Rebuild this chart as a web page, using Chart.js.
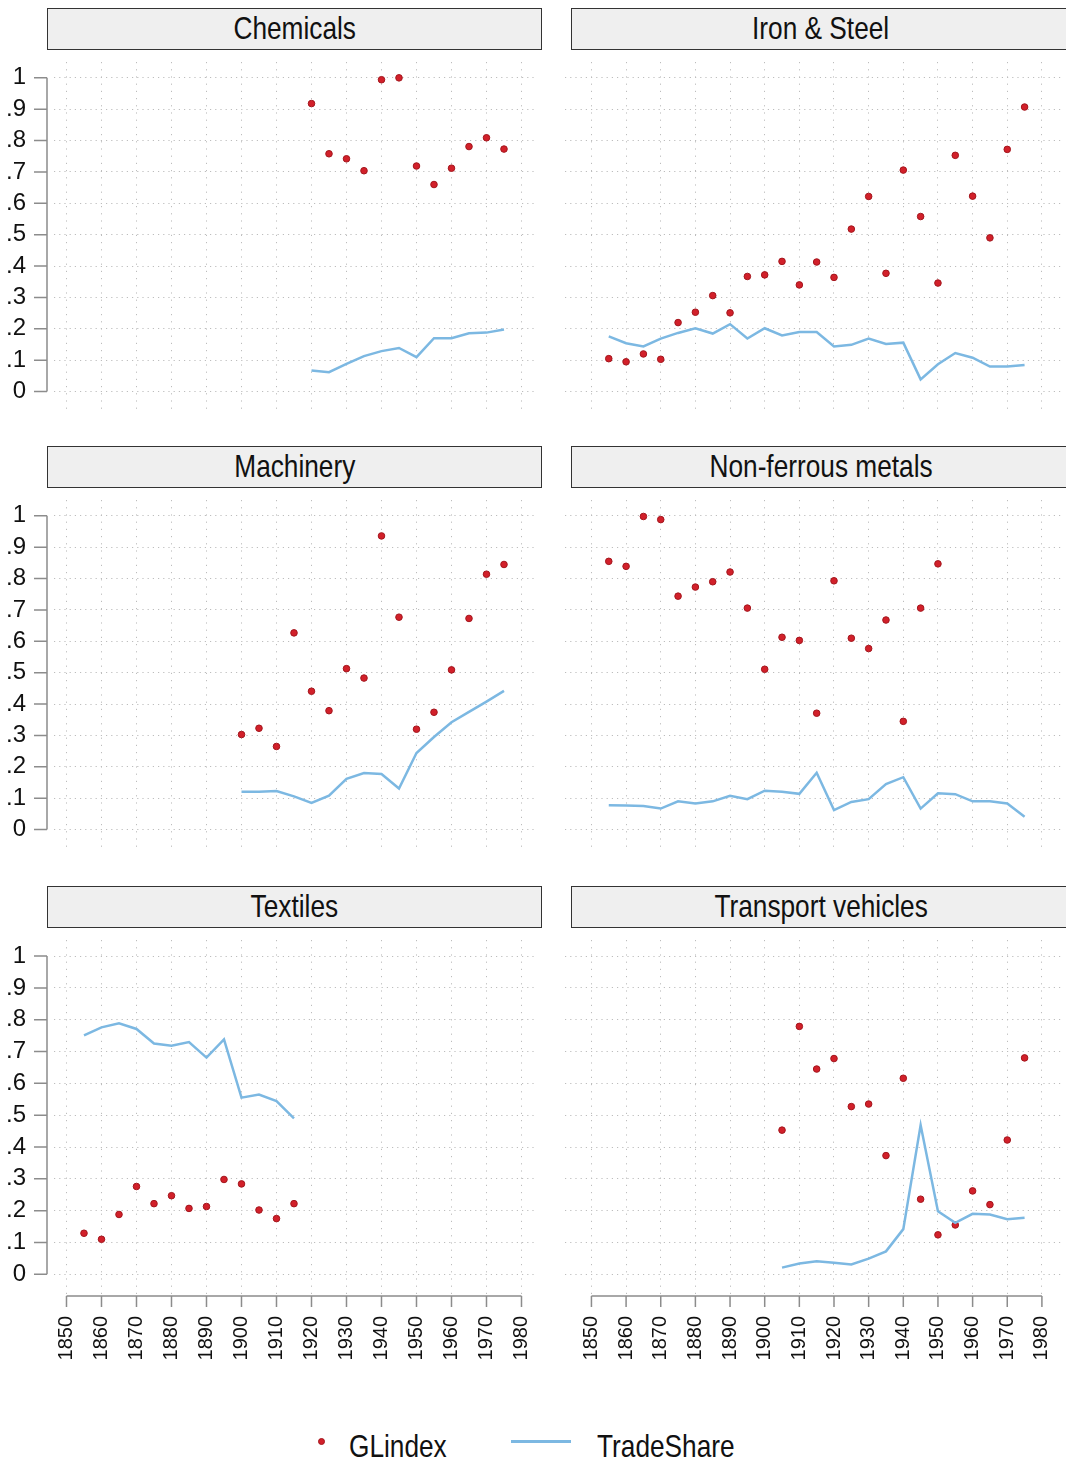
<!DOCTYPE html>
<html>
<head>
<meta charset="utf-8">
<script src="https://cdn.jsdelivr.net/npm/chart.js@4.4.1/dist/chart.umd.min.js"></script>
<style>
  html, body { margin: 0; padding: 0; background: #fff; }
  body { width: 1066px; height: 1465px; position: relative; overflow: hidden; }
  canvas { position: absolute; }
  .strip { position: absolute; box-sizing: border-box; height: 42px; background: #efefef; border: 1.5px solid #333; overflow: hidden; }
  .strip .t { position: absolute; left: 0; right: 0; top: 3px; text-align: center; line-height: 1; font-size: 32px; color: #111; white-space: nowrap; }
  .lbl { position: absolute; line-height: 1; font-size: 32px; color: #111; white-space: nowrap; }
  .sq { display: inline-block; }
</style>
</head>
<body>
<script>
// values
const chemYears = [1920, 1925, 1930, 1935, 1940, 1945, 1950, 1955, 1960, 1965, 1970, 1975];
const chemGL = [0.918, 0.758, 0.742, 0.704, 0.994, 1.0, 0.719, 0.66, 0.712, 0.781, 0.809, 0.773];
const chemTS = [0.067, 0.062, 0.088, 0.113, 0.129, 0.139, 0.110, 0.170, 0.170, 0.186, 0.188, 0.198];

const ironYears = [1855, 1860, 1865, 1870, 1875, 1880, 1885, 1890, 1895, 1900, 1905, 1910, 1915,
                   1920, 1925, 1930, 1935, 1940, 1945, 1950, 1955, 1960, 1965, 1970, 1975];
const ironGL = [0.105, 0.095, 0.12, 0.103, 0.22, 0.253, 0.306, 0.251, 0.367, 0.372, 0.415, 0.34, 0.413,
                0.364, 0.518, 0.622, 0.377, 0.706, 0.558, 0.346, 0.753, 0.623, 0.49, 0.772, 0.907];
const ironTS = [0.176, 0.154, 0.144, 0.169, 0.187, 0.202, 0.185, 0.215, 0.169, 0.202, 0.179, 0.19, 0.19,
                0.144, 0.149, 0.169, 0.152, 0.156, 0.039, 0.087, 0.123, 0.108, 0.08, 0.08, 0.085];

const machYears = [1900, 1905, 1910, 1915, 1920, 1925, 1930, 1935, 1940, 1945, 1950, 1955, 1960, 1965, 1970, 1975];
const machGL = [0.303, 0.323, 0.265, 0.627, 0.441, 0.379, 0.513, 0.483, 0.936, 0.677, 0.32, 0.374, 0.509, 0.673, 0.814, 0.845];
const machTS = [0.121, 0.121, 0.123, 0.106, 0.085, 0.108, 0.162, 0.18, 0.177, 0.131, 0.244, 0.295, 0.342, 0.375, 0.408, 0.442];

const nonfGLYears = [1855, 1860, 1865, 1870, 1875, 1880, 1885, 1890, 1895, 1900, 1905, 1910, 1915,
                     1920, 1925, 1930, 1935, 1940, 1945, 1950];
const nonfGL = [0.855, 0.839, 0.998, 0.988, 0.744, 0.773, 0.79, 0.821, 0.706, 0.511, 0.613, 0.603, 0.371,
                0.793, 0.61, 0.577, 0.668, 0.345, 0.706, 0.847];
const nonfTSYears = [1855, 1860, 1865, 1870, 1875, 1880, 1885, 1890, 1895, 1900, 1905, 1910, 1915,
                     1920, 1925, 1930, 1935, 1940, 1945, 1950, 1955, 1960, 1965, 1970, 1975];
const nonfTS = [0.078, 0.077, 0.075, 0.067, 0.09, 0.083, 0.09, 0.108, 0.097, 0.124, 0.121, 0.114, 0.181,
                0.062, 0.088, 0.097, 0.145, 0.167, 0.067, 0.116, 0.113, 0.09, 0.09, 0.083, 0.041];

const textYears = [1855, 1860, 1865, 1870, 1875, 1880, 1885, 1890, 1895, 1900, 1905, 1910, 1915];
const textGL = [0.129, 0.11, 0.188, 0.276, 0.222, 0.247, 0.207, 0.213, 0.298, 0.284, 0.202, 0.175, 0.222];
const textTS = [0.751, 0.776, 0.789, 0.771, 0.725, 0.718, 0.73, 0.681, 0.738, 0.555, 0.565, 0.544, 0.49];

const transYears = [1905, 1910, 1915, 1920, 1925, 1930, 1935, 1940, 1945, 1950, 1955, 1960, 1965, 1970, 1975];
const transGL = [0.453, 0.779, 0.645, 0.678, 0.527, 0.535, 0.373, 0.616, 0.236, 0.124, 0.155, 0.262, 0.219, 0.422, 0.68];
const transTS = [0.021, 0.034, 0.041, 0.036, 0.031, 0.049, 0.072, 0.142, 0.469, 0.198, 0.162, 0.19, 0.188, 0.173, 0.178];

const xTicks = [1850, 1860, 1870, 1880, 1890, 1900, 1910, 1920, 1930, 1940, 1950, 1960, 1970, 1980];
const xTickLabels = ['1850', '1860', '1870', '1880', '1890', '1900', '1910', '1920', '1930', '1940', '1950', '1960', '1970', '1980'];
const yTicks = [0, 0.1, 0.2, 0.3, 0.4, 0.5, 0.6, 0.7, 0.8, 0.9, 1];
const yTickLabels = ['0', '.1', '.2', '.3', '.4', '.5', '.6', '.7', '.8', '.9', '1'];

const seriesNames = ['GLindex', 'TradeShare'];
const panelTitles = ['Chemicals', 'Iron & Steel', 'Machinery', 'Non-ferrous metals', 'Textiles', 'Transport vehicles'];

// is the narrow Helvetica-like face there?
function hasFont(name) {
    const c = document.createElement('canvas').getContext('2d');
    c.font = '40px monospace';
    const a = c.measureText('Chemicals 1850').width;
    c.font = '40px "' + name + '", monospace';
    return c.measureText('Chemicals 1850').width !== a;
}
const narrow = hasFont('Liberation Sans Narrow');
const FAMILY = narrow ? '"Liberation Sans Narrow", "Liberation Sans", Arial, sans-serif' : '"Liberation Sans", Arial, sans-serif';
const squeeze = narrow ? '' : 'transform:scaleX(0.82);';
document.body.style.fontFamily = FAMILY;
Chart.defaults.font.family = FAMILY;
Chart.defaults.color = '#111';

const RED = '#d2202a';
const RED_EDGE = '#a3161d';
const BLUE = '#7cb8e2';
const AXIS = '#8c8c8c';
const GRID = '#bdbdbd';

// layout of the 2x3 grid
const colLeft = [0, 524];
const colWidth = [545, 542];
const rowTop = [57, 495, 935];
const stripTop = [8, 446, 886];
const stripLeft = [47, 571];
const PLOT_H = 361;
const xRange = [[1846.43, 1984.43], [1842.37, 1985.51]];

const stataAxes = {
    id: 'stataAxes',
    afterDraw(chart, args, opts) {
        const { ctx, chartArea, scales } = chart;
        const x = scales.x, y = scales.y;
        ctx.save();
        ctx.strokeStyle = AXIS;
        ctx.lineWidth = 1.5;
        ctx.setLineDash([]);
        ctx.beginPath();
        if (opts.yAxis) {
            const ax = chartArea.left - 7;
            ctx.moveTo(ax, y.getPixelForValue(yTicks[0]));
            ctx.lineTo(ax, y.getPixelForValue(yTicks[yTicks.length - 1]));
            yTicks.forEach(v => {
                const py = y.getPixelForValue(v);
                ctx.moveTo(ax - 13, py);
                ctx.lineTo(ax, py);
            });
        }
        if (opts.xAxis) {
            const ay = chartArea.bottom;
            ctx.moveTo(x.getPixelForValue(xTicks[0]), ay);
            ctx.lineTo(x.getPixelForValue(xTicks[xTicks.length - 1]), ay);
            xTicks.forEach(v => {
                const px = x.getPixelForValue(v);
                ctx.moveTo(px, ay);
                ctx.lineTo(px, ay + 11);
            });
        }
        ctx.stroke();
        ctx.restore();
    }
};

function pts(xs, ys) {
    return xs.map((v, i) => ({ x: v, y: ys[i] }));
}

const panels = [
    { col: 0, row: 0, gl: pts(chemYears, chemGL), ts: pts(chemYears, chemTS) },
    { col: 1, row: 0, gl: pts(ironYears, ironGL), ts: pts(ironYears, ironTS) },
    { col: 0, row: 1, gl: pts(machYears, machGL), ts: pts(machYears, machTS) },
    { col: 1, row: 1, gl: pts(nonfGLYears, nonfGL), ts: pts(nonfTSYears, nonfTS) },
    { col: 0, row: 2, gl: pts(textYears, textGL), ts: pts(textYears, textTS) },
    { col: 1, row: 2, gl: pts(transYears, transGL), ts: pts(transYears, transTS) }
];

panels.forEach((p, k) => {
    const bottomRow = p.row === 2;
    const leftCol = p.col === 0;

    const strip = document.createElement('div');
    strip.className = 'strip';
    strip.style.left = stripLeft[p.col] + 'px';
    strip.style.top = stripTop[p.row] + 'px';
    strip.style.width = (leftCol ? 495 : 500) + 'px';
    strip.innerHTML = '<div class="t"><span class="sq" style="' + squeeze + '"></span></div>';
    strip.querySelector('.sq').textContent = panelTitles[k];
    document.body.appendChild(strip);

    const canvas = document.createElement('canvas');
    const h = PLOT_H + (bottomRow ? 75 : 0);
    canvas.width = colWidth[p.col];
    canvas.height = h;
    canvas.style.left = colLeft[p.col] + 'px';
    canvas.style.top = rowTop[p.row] + 'px';
    canvas.style.width = colWidth[p.col] + 'px';
    canvas.style.height = h + 'px';
    document.body.appendChild(canvas);

    new Chart(canvas, {
        type: 'scatter',
        data: {
            datasets: [{
                label: seriesNames[0],
                data: p.gl,
                backgroundColor: RED,
                borderColor: RED_EDGE,
                borderWidth: 1,
                pointRadius: 3.3,
                order: 1
            }, {
                label: seriesNames[1],
                data: p.ts,
                showLine: true,
                borderColor: BLUE,
                backgroundColor: BLUE,
                borderWidth: 2.5,
                pointRadius: 0,
                tension: 0,
                order: 0
            }]
        },
        options: {
            responsive: false,
            animation: false,
            events: [],
            layout: { padding: { top: 0, left: 0, bottom: 0, right: leftCol ? 8 : 0 } },
            plugins: {
                legend: { display: false },
                tooltip: { enabled: false },
                stataAxes: { yAxis: leftCol, xAxis: bottomRow }
            },
            scales: {
                x: {
                    type: 'linear',
                    min: xRange[p.col][0],
                    max: xRange[p.col][1],
                    afterBuildTicks: s => { s.ticks = xTicks.map(v => ({ value: v })); },
                    afterFit: s => {
                        s.height = bottomRow ? 75 : 0;
                        s.paddingLeft = 0;
                        s.paddingRight = 0;
                    },
                    grid: { color: GRID, lineWidth: 1, drawTicks: false },
                    border: { display: false, dash: [1.2, 6] },
                    ticks: {
                        display: bottomRow,
                        autoSkip: false,
                        minRotation: 90,
                        maxRotation: 90,
                        padding: 20,
                        font: { size: narrow ? 25 : 20 },
                        color: '#111',
                        callback: (v, i) => xTickLabels[i]
                    }
                },
                y: {
                    type: 'linear',
                    min: -0.0682,
                    max: 1.0505,
                    afterBuildTicks: s => { s.ticks = yTicks.map(v => ({ value: v })); },
                    afterFit: s => {
                        s.width = leftCol ? 54 : 41;
                        s.paddingTop = 0;
                        s.paddingBottom = 0;
                    },
                    grid: { color: GRID, lineWidth: 1, drawTicks: false },
                    border: { display: false, dash: [1.2, 4] },
                    ticks: {
                        display: leftCol,
                        padding: 28,
                        font: { size: 24 },
                        color: '#111',
                        callback: (v, i) => yTickLabels[i]
                    }
                }
            }
        },
        plugins: [stataAxes]
    });
});

// legend along the bottom
const legend = document.createElement('div');
legend.innerHTML =
    '<div style="position:absolute;left:317.5px;top:1437.5px;width:7px;height:7px;border-radius:50%;background:' + RED + ';box-sizing:border-box;border:1px solid ' + RED_EDGE + '"></div>' +
    '<div class="lbl" style="left:349px;top:1430px;"><span class="sq" style="transform-origin:left;' + squeeze + '">' + seriesNames[0] + '</span></div>' +
    '<div style="position:absolute;left:511px;top:1440px;width:60px;height:2.5px;background:' + BLUE + '"></div>' +
    '<div class="lbl" style="left:597px;top:1430px;"><span class="sq" style="transform-origin:left;' + squeeze + '">' + seriesNames[1] + '</span></div>';
document.body.appendChild(legend);
</script>
</body>
</html>
